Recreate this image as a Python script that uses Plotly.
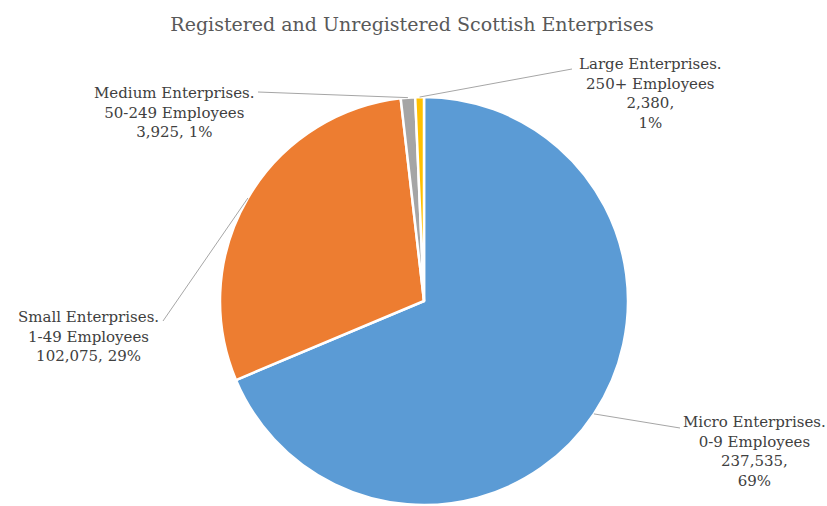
import math
import plotly.graph_objects as go

# Enterprise counts by size band
categories = ["Micro Enterprises.", "Small Enterprises.", "Medium Enterprises.", "Large Enterprises."]
employee_bands = ["0-9 Employees", "1-49 Employees", "50-249 Employees", "250+ Employees"]
enterprise_counts = [237535, 102075, 3925, 2380]
share_labels = ["69%", "29%", "1%", "1%"]
slice_colors = ["#5B9BD5", "#ED7D31", "#A5A5A5", "#FFC000"]

W, H = 827, 506
CX, CY, R = 424, 301, 204  # pie centre and radius in pixels


def px(x, y):
    return x / W, 1 - y / H


fig = go.Figure(
    go.Pie(
        labels=categories,
        values=enterprise_counts,
        sort=False,
        direction="clockwise",
        rotation=0,
        marker=dict(colors=slice_colors, line=dict(color="white", width=2.5)),
        textinfo="none",
        hoverinfo="label+value+percent",
        domain=dict(x=[(CX - R) / W, (CX + R) / W], y=[(H - CY - R) / H, (H - CY + R) / H]),
        showlegend=False,
    )
)

# label text blocks: centre x, top y, whether value and share go on separate lines,
# and the point where the leader line meets the label
label_layout = [
    dict(x=754, y=411, split_value=True, elbow=(680, 428)),
    dict(x=88, y=306, split_value=False, elbow=(163, 321)),
    dict(x=174, y=82, split_value=False, elbow=(258, 92)),
    dict(x=650, y=53, split_value=True, elbow=(572, 69)),
]

total = sum(enterprise_counts)
cum = 0
font = dict(family="DejaVu Serif", size=15, color="#404040")
for i, v in enumerate(enterprise_counts):
    mid = (cum + v / 2) / total
    cum += v
    ang = 2 * math.pi * mid
    ex = CX + R * math.sin(ang)
    ey = CY - R * math.cos(ang)
    lay = label_layout[i]
    value_txt = f"{v:,},"
    if lay["split_value"]:
        txt = f"{categories[i]}<br>{employee_bands[i]}<br>{value_txt}<br>{share_labels[i]}"
    else:
        txt = f"{categories[i]}<br>{employee_bands[i]}<br>{value_txt} {share_labels[i]}"
    tx, ty = px(lay["x"], lay["y"])
    fig.add_annotation(
        x=tx, y=ty, xref="paper", yref="paper", xanchor="center", yanchor="top",
        text=txt, showarrow=False, align="center", font=font,
    )
    # leader line from slice edge to label
    x0, y0 = px(ex, ey)
    x1, y1 = px(*lay["elbow"])
    fig.add_shape(type="line", xref="paper", yref="paper", x0=x0, y0=y0, x1=x1, y1=y1,
                  line=dict(color="#A6A6A6", width=1))

fig.update_layout(
    width=W,
    height=H,
    margin=dict(l=0, r=0, t=0, b=0),
    paper_bgcolor="white",
    plot_bgcolor="white",
    title=dict(
        text="Registered and Unregistered Scottish Enterprises",
        x=412 / W, xanchor="center", y=1 - 24 / H, yanchor="middle",
        font=dict(family="DejaVu Serif", size=19, color="#595959"),
    ),
)

fig.write_html("out.html")
